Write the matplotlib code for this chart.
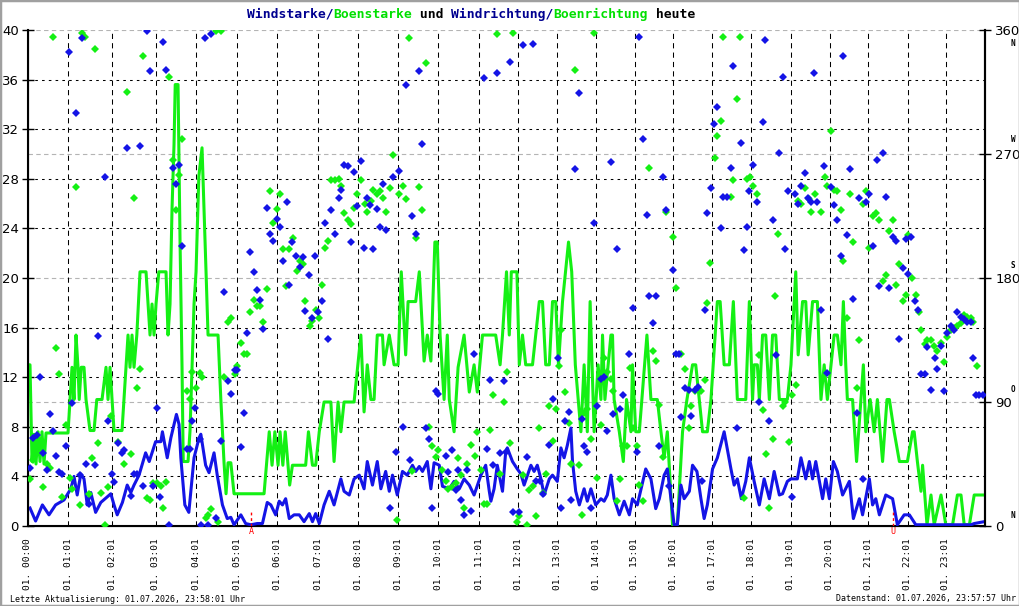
import matplotlib
matplotlib.use("Agg")
import matplotlib.pyplot as plt
from matplotlib.patches import Rectangle

# ---------------------------------------------------------
# Daten (x = Position auf der Zeitachse in Stunden, Tagesverlauf 01.07.)
# ---------------------------------------------------------
tick_pos = [0, 1.008, 2.108, 3.193, 4.208, 5.233, 6.233, 7.258, 8.258, 9.258,
            10.258, 11.275, 12.258, 13.233, 14.208, 15.168, 16.133, 17.108,
            18.083, 19.068, 20.043, 21.008, 21.983, 22.943]
tick_labels = ["01. 00:00"] + ["01. %02d:01" % h for h in range(1, 24)]

# Boenstarke (gruen)
gust = [(0.0, 13.0), (0.05, 13.0), (0.10, 5.2), (0.15, 7.4), (0.2, 5.0), (0.25, 7.6), (0.3, 5.2),
        (0.35, 7.6), (0.4, 5.0), (0.45, 7.5), (0.5, 7.5), (1.0, 7.5), (1.05, 10.2), (1.1, 12.8),
        (1.15, 10.2), (1.2, 15.4), (1.25, 12.8), (1.28, 10.2), (1.33, 12.8), (1.4, 12.8),
        (1.45, 10.2), (1.55, 7.7), (1.65, 7.7), (1.72, 10.2), (1.85, 10.2), (1.95, 12.8),
        (2.0, 10.2), (2.05, 12.8), (2.15, 7.7), (2.35, 7.7), (2.45, 12.8), (2.5, 15.4),
        (2.55, 12.8), (2.6, 15.4), (2.65, 12.8), (2.72, 15.4), (2.8, 20.5), (2.95, 20.5),
        (3.0, 17.9), (3.05, 15.4), (3.1, 17.9), (3.15, 15.4), (3.2, 17.9), (3.27, 20.5),
        (3.45, 20.5), (3.5, 15.4), (3.55, 17.9), (3.6, 25.6), (3.65, 30.8), (3.68, 35.6),
        (3.75, 35.6), (3.8, 23.0), (3.85, 12.8), (3.88, 5.2), (4.0, 5.2), (4.05, 7.7),
        (4.1, 12.8), (4.15, 17.9), (4.2, 20.5), (4.27, 28.2), (4.35, 30.5), (4.4, 25.6),
        (4.45, 20.5), (4.5, 15.4), (4.75, 15.4), (4.82, 10.2), (4.9, 5.1), (4.95, 2.6),
        (5.0, 5.1), (5.07, 5.1), (5.15, 2.6), (5.9, 2.6),
        (6.03, 7.6), (6.1, 4.9), (6.17, 7.6), (6.25, 4.9), (6.3, 7.6), (6.37, 4.9), (6.43, 7.6),
        (6.5, 4.9), (6.54, 3.3), (6.61, 4.9), (6.94, 4.9), (7.01, 7.6), (7.11, 4.9), (7.19, 4.9),
        (7.28, 7.6), (7.4, 10.0), (7.57, 10.0), (7.65, 5.2), (7.75, 10.0), (7.82, 7.6),
        (7.9, 10.0), (8.15, 10.0), (8.32, 15.4), (8.4, 9.2), (8.48, 13.0), (8.57, 10.2),
        (8.65, 10.2), (8.73, 15.4), (8.86, 15.4), (8.9, 13.0), (9.03, 15.4), (9.15, 13.0),
        (9.25, 13.0), (9.33, 20.5), (9.44, 13.8), (9.5, 18.1), (9.69, 18.1), (9.78, 20.5),
        (9.9, 13.3), (9.98, 15.4), (10.07, 13.3), (10.17, 22.9), (10.23, 22.9), (10.3, 15.4),
        (10.4, 10.2), (10.48, 15.4), (10.53, 10.2), (10.65, 7.6), (10.75, 12.8), (10.9, 15.4),
        (11.03, 10.8), (11.15, 13.0), (11.23, 10.8), (11.36, 15.4), (11.69, 15.4), (11.8, 13.0),
        (11.86, 15.4), (11.96, 20.5), (12.03, 15.4),
        (12.08, 20.5), (12.22, 20.5), (12.28, 13.0), (12.36, 15.4), (12.44, 13.0), (12.61, 13.0),
        (12.69, 15.4), (12.78, 18.1), (12.86, 18.1), (12.94, 13.0), (13.03, 13.0), (13.11, 18.1),
        (13.19, 18.1), (13.26, 13.0), (13.36, 18.1), (13.51, 22.9), (13.59, 20.5), (13.68, 13.0),
        (13.82, 7.6), (13.9, 13.0), (13.98, 7.6), (14.05, 18.1), (14.15, 7.6), (14.25, 13.0),
        (14.32, 10.2), (14.36, 15.4), (14.42, 10.2), (14.57, 15.4), (14.61, 15.4), (14.65, 10.2),
        (14.78, 7.6), (14.88, 5.2), (14.96, 10.2), (15.07, 7.6), (15.11, 13.0), (15.19, 7.6),
        (15.28, 7.6), (15.47, 15.4), (15.57, 10.2), (15.73, 10.2), (15.82, 7.6), (15.9, 5.5),
        (15.98, 7.6), (16.11, 0.1), (16.23, 0.1), (16.36, 7.6), (16.47, 10.2), (16.61, 13.0),
        (16.69, 13.0), (16.86, 7.6), (16.98, 7.6), (17.07, 10.2), (17.23, 18.1), (17.3, 18.1),
        (17.4, 13.0), (17.53, 13.0), (17.63, 18.1), (17.73, 10.2), (17.94, 10.2), (18.03, 18.1),
        (18.11, 10.2), (18.15, 13.0), (18.23, 13.0), (18.28, 10.2), (18.36, 15.4), (18.44, 15.4),
        (18.53, 10.2), (18.61, 15.4), (18.69, 15.4), (18.78, 10.2), (18.98, 10.2), (19.07, 13.0),
        (19.19, 20.5), (19.25, 13.8), (19.36, 18.1), (19.44, 18.1), (19.5, 13.8), (19.61, 18.1),
        (19.73, 18.1), (19.82, 10.2), (19.9, 13.0), (19.98, 10.2), (20.15, 15.4), (20.23, 15.4),
        (20.32, 13.0), (20.38, 18.1), (20.44, 13.0), (20.48, 10.2), (20.61, 10.2), (20.71, 5.2),
        (20.82, 10.2), (20.88, 13.0), (20.94, 7.6), (21.05, 10.2), (21.15, 7.6), (21.23, 10.2),
        (21.36, 5.2), (21.47, 10.2), (21.53, 10.2), (21.65, 7.6), (21.78, 5.2), (21.98, 5.2),
        (22.11, 7.6), (22.15, 7.6), (22.23, 5.2), (22.32, 2.8), (22.36, 4.9), (22.47, 0.1),
        (22.57, 2.5), (22.65, 0.1), (22.82, 2.5), (22.94, 0.1), (23.11, 0.1), (23.23, 2.5),
        (23.32, 2.5), (23.4, 0.1), (23.53, 0.1), (23.65, 2.5), (23.9, 2.5)]

# Windstarke (blau)
wind = [(0.05, 1.45), (0.19, 0.4), (0.36, 1.7), (0.525, 0.9), (0.69, 1.7), (0.9, 2.1), (1.07, 3.0),
        (1.15, 4.0), (1.23, 2.5), (1.32, 4.2), (1.4, 3.8), (1.48, 1.7), (1.57, 2.7), (1.69, 1.1),
        (1.82, 1.9), (2.07, 2.6), (2.15, 1.7), (2.23, 0.9), (2.36, 1.9), (2.48, 3.3), (2.57, 2.7),
        (2.65, 3.3), (2.775, 4.1), (2.94, 5.9), (3.03, 5.2), (3.19, 6.8), (3.32, 6.8), (3.36, 7.6),
        (3.48, 5.5), (3.57, 7.1), (3.71, 9.0), (3.775, 8.2), (3.82, 5.5), (3.92, 1.7), (4.02, 1.1),
        (4.15, 5.5), (4.275, 7.1), (4.32, 7.4), (4.44, 4.9), (4.525, 4.3), (4.65, 5.9), (4.73, 4.1),
        (4.86, 1.7), (4.98, 0.6), (5.07, 0.7), (5.15, 0.1), (5.32, 0.9), (5.44, 0.2), (5.57, 0.1),
        (5.73, 0.2), (5.86, 0.2), (5.98, 1.9),
        (6.07, 1.7), (6.19, 0.9), (6.28, 2.0), (6.36, 1.7), (6.44, 2.2), (6.53, 0.6), (6.65, 0.9),
        (6.78, 0.9), (6.9, 0.35), (7.03, 1.0), (7.11, 0.35), (7.19, 1.0), (7.28, 0.2), (7.4, 1.7),
        (7.53, 2.8), (7.65, 1.7), (7.82, 3.8), (7.9, 2.8), (8.03, 2.5), (8.15, 3.8), (8.28, 4.1),
        (8.4, 3.0), (8.48, 5.2), (8.61, 3.3), (8.73, 5.2), (8.82, 3.0), (8.94, 4.4), (9.03, 2.8),
        (9.11, 4.1), (9.23, 2.5), (9.36, 4.4), (9.48, 4.1), (9.61, 4.9), (9.69, 4.4), (9.78, 4.8),
        (9.86, 4.4), (9.98, 5.2), (10.07, 3.0), (10.15, 5.1), (10.28, 4.9), (10.36, 3.2),
        (10.53, 3.0), (10.65, 3.6), (10.78, 3.0), (10.9, 3.8), (11.03, 3.3), (11.15, 2.5),
        (11.32, 4.1), (11.44, 4.9), (11.53, 2.8), (11.57, 2.0), (11.65, 3.0), (11.73, 4.9),
        (11.86, 2.8), (11.94, 6.0),
        (11.98, 6.3), (12.11, 5.2), (12.23, 4.6), (12.32, 4.2), (12.4, 3.3), (12.57, 4.9),
        (12.65, 4.4), (12.73, 4.9), (12.82, 3.8), (12.9, 2.5), (13.03, 3.8), (13.11, 4.1),
        (13.23, 3.6), (13.32, 6.3), (13.4, 5.5), (13.48, 6.5), (13.57, 7.9), (13.61, 5.2),
        (13.69, 2.8), (13.78, 1.7), (13.9, 3.0), (13.98, 2.0), (14.07, 3.0), (14.19, 1.7),
        (14.32, 2.2), (14.4, 2.0), (14.48, 2.5), (14.57, 4.1), (14.65, 2.2), (14.78, 0.9),
        (14.9, 2.0), (15.03, 0.9), (15.11, 2.2), (15.23, 1.7), (15.44, 4.6), (15.57, 3.8),
        (15.69, 1.4), (15.78, 2.2), (15.9, 4.1), (15.98, 4.6), (16.07, 2.2), (16.15, 0.1),
        (16.23, 0.1), (16.32, 3.3), (16.4, 2.2), (16.53, 2.8), (16.61, 4.9), (16.72, 4.4),
        (16.82, 2.2), (16.9, 0.6), (16.98, 1.7), (17.11, 4.6), (17.23, 5.5), (17.4, 7.6),
        (17.57, 4.6), (17.65, 3.3), (17.73, 3.8), (17.83, 2.2), (17.94, 3.6),
        (18.03, 5.5), (18.15, 3.6), (18.28, 1.7), (18.4, 3.8), (18.53, 2.2), (18.65, 4.4),
        (18.78, 2.5), (18.86, 2.6), (18.98, 3.6), (19.07, 3.8), (19.23, 3.8), (19.32, 5.5),
        (19.44, 3.8), (19.53, 5.2), (19.61, 3.8), (19.69, 5.2), (19.86, 2.2), (19.94, 3.8),
        (20.03, 2.2), (20.13, 5.2), (20.23, 4.4), (20.36, 2.5), (20.53, 3.6), (20.63, 0.6),
        (20.78, 2.2), (20.86, 0.9), (21.03, 3.8), (21.11, 1.7), (21.19, 2.2), (21.28, 0.9),
        (21.44, 2.5), (21.61, 2.2), (21.73, 0.1), (21.9, 0.9), (22.03, 0.9), (22.19, 0.1),
        (23.57, 0.1), (23.65, 0.2), (23.9, 0.35)]

# Windrichtung (blau, Grad)
wind_dir = [(0.05, 42), (0.13, 64), (0.23, 66), (0.30, 108), (0.38, 53), (0.47, 41), (0.55, 81),
            (0.63, 69), (0.71, 51), (0.78, 39), (0.86, 38), (0.96, 58), (1.03, 344), (1.11, 89),
            (1.19, 300), (1.29, 37), (1.36, 354), (1.44, 45), (1.53, 16), (1.68, 44), (1.76, 138),
            (1.93, 253), (2.01, 76), (2.09, 38), (2.15, 32), (2.26, 60), (2.34, 53), (2.40, 55),
            (2.48, 274), (2.58, 22), (2.65, 38), (2.73, 38), (2.81, 276), (2.88, 29), (2.98, 359),
            (3.05, 330), (3.13, 29), (3.22, 86), (3.30, 21), (3.38, 351), (3.46, 331), (3.53, 1),
            (3.63, 260), (3.71, 248), (3.78, 262), (3.86, 203), (3.98, 56), (4.04, 56), (4.11, 76),
            (4.18, 86), (4.29, 63), (4.33, 1), (4.43, 354), (4.51, 1), (4.58, 357), (4.69, 6),
            (4.83, 62), (4.90, 170), (5.01, 105), (5.08, 96), (5.17, 113), (5.22, 113), (5.33, 57),
            (5.40, 82), (5.48, 140), (5.56, 199), (5.65, 184), (5.73, 171), (5.81, 164), (5.88, 143),
            (5.98, 231), (6.05, 212), (6.13, 207), (6.22, 223), (6.30, 217), (6.38, 192), (6.47, 235),
            (6.53, 175), (6.61, 206), (6.71, 196), (6.79, 188), (6.87, 195), (6.93, 156), (7.03, 182),
            (7.11, 151), (7.18, 196), (7.26, 155), (7.36, 163), (7.43, 220), (7.51, 136), (7.58, 229),
            (7.68, 212), (7.77, 238), (7.83, 244), (7.90, 262), (8.00, 261), (8.08, 206), (8.15, 257),
            (8.23, 232), (8.33, 265), (8.40, 202), (8.48, 238), (8.55, 233), (8.63, 201), (8.73, 230),
            (8.81, 217), (8.88, 248), (8.96, 215), (9.05, 13), (9.13, 253), (9.21, 54), (9.28, 258),
            (9.38, 72), (9.46, 320), (9.54, 48), (9.61, 225), (9.71, 212), (9.78, 330), (9.86, 277),
            (9.94, 71), (10.03, 63), (10.11, 13), (10.19, 98), (10.26, 96), (10.44, 51), (10.51, 39),
            (10.59, 55), (10.69, 26), (10.76, 41), (10.83, 19), (10.90, 8), (10.98, 41), (11.08, 11),
            (11.15, 125), (11.40, 325), (11.48, 56), (11.56, 106), (11.63, 44), (11.73, 329),
            (11.80, 53), (11.95, 54),
            (11.90, 105), (12.05, 337), (12.13, 10), (12.28, 10), (12.38, 349), (12.46, 50),
            (12.61, 350), (12.69, 33), (12.79, 33), (12.88, 23), (13.01, 59), (13.11, 92),
            (13.25, 122), (13.33, 13), (13.43, 76), (13.51, 83), (13.58, 19), (13.66, 259),
            (13.76, 314), (13.84, 78), (13.90, 58), (13.98, 54), (14.08, 13), (14.15, 220),
            (14.23, 87), (14.32, 107), (14.40, 108), (14.48, 69), (14.57, 264), (14.63, 81),
            (14.72, 201), (14.80, 85), (14.88, 95), (15.03, 125), (15.13, 158), (15.21, 54),
            (15.28, 355), (15.36, 281), (15.46, 226), (15.53, 167), (15.61, 147), (15.69, 167),
            (15.78, 58), (15.86, 253), (15.94, 229), (16.03, 29), (16.11, 186), (16.19, 125),
            (16.28, 125), (16.33, 79), (16.43, 100), (16.51, 99), (16.58, 80), (16.67, 99),
            (16.75, 101), (16.84, 33), (16.92, 157), (16.98, 227), (17.07, 245), (17.15, 292),
            (17.23, 304), (17.32, 216), (17.38, 239), (17.48, 239), (17.57, 260), (17.63, 334),
            (17.72, 71), (17.81, 278),
            (17.90, 200), (17.97, 217), (18.03, 243), (18.13, 262), (18.21, 235), (18.28, 90),
            (18.36, 293), (18.43, 353), (18.53, 76), (18.61, 222), (18.69, 124), (18.76, 271),
            (18.86, 326), (18.93, 201), (19.00, 243), (19.09, 21), (19.18, 241), (19.25, 234),
            (19.33, 247), (19.41, 256), (19.50, 238), (19.58, 235), (19.65, 329), (19.73, 235),
            (19.83, 157), (19.90, 261), (19.98, 111), (20.07, 246), (20.15, 233), (20.23, 222),
            (20.32, 196), (20.38, 341), (20.47, 211), (20.55, 259), (20.63, 165), (20.72, 82),
            (20.78, 238), (20.88, 34), (20.95, 235), (21.03, 241), (21.11, 203), (21.21, 266),
            (21.28, 174), (21.36, 271), (21.44, 239), (21.53, 173), (21.61, 210), (21.69, 207),
            (21.76, 136), (21.86, 187), (21.94, 208), (21.99, 183), (22.08, 210), (22.18, 163),
            (22.25, 157), (22.33, 110), (22.42, 110), (22.48, 130), (22.58, 99), (22.67, 122),
            (22.73, 114), (22.82, 131), (22.90, 98), (22.98, 140), (23.07, 145), (23.15, 142),
            (23.23, 155), (23.32, 152), (23.40, 150), (23.47, 148), (23.57, 148), (23.63, 122),
            (23.69, 95), (23.78, 95), (23.88, 95)]

# Boenrichtung (gruen, Grad)
gust_dir = [(0.05, 34), (0.13, 48), (0.22, 56), (0.30, 62), (0.38, 28), (0.47, 45), (0.55, 42),
            (0.63, 355), (0.71, 129), (0.78, 110), (0.86, 21), (0.96, 73), (1.04, 35), (1.11, 27),
            (1.19, 246), (1.29, 15), (1.36, 358), (1.43, 355), (1.53, 23), (1.61, 49), (1.68, 346),
            (1.76, 60), (1.83, 24), (1.93, 1), (2.01, 28), (2.08, 80), (2.26, 61), (2.40, 45),
            (2.48, 315), (2.58, 52), (2.65, 238), (2.73, 100), (2.81, 114), (2.88, 341), (2.98, 20),
            (3.05, 19), (3.13, 31), (3.22, 31), (3.32, 29), (3.38, 13), (3.46, 32), (3.53, 326),
            (3.63, 266), (3.69, 229), (3.78, 255), (3.86, 281), (3.97, 98), (4.04, 92), (4.11, 112),
            (4.19, 100), (4.29, 111), (4.36, 108), (4.44, 6), (4.51, 8), (4.58, 12), (4.69, 359),
            (4.76, 3), (4.83, 359), (4.90, 108), (5.00, 148), (5.07, 151), (5.17, 110), (5.23, 116),
            (5.33, 133), (5.40, 125), (5.48, 125), (5.56, 155), (5.65, 164), (5.73, 160), (5.80, 160),
            (5.88, 148),
            (5.97, 172), (6.05, 243), (6.13, 220), (6.22, 230), (6.30, 241), (6.38, 201), (6.45, 174),
            (6.53, 201), (6.62, 209), (6.72, 185), (6.80, 192), (6.87, 190), (6.93, 163), (7.04, 145),
            (7.11, 149), (7.19, 157), (7.27, 151), (7.36, 175), (7.43, 202), (7.51, 207), (7.58, 251),
            (7.68, 251), (7.77, 252), (7.83, 247), (7.90, 227), (8.00, 222), (8.08, 219), (8.15, 231),
            (8.23, 241), (8.33, 251), (8.42, 234), (8.48, 228), (8.57, 236), (8.63, 244), (8.73, 241),
            (8.81, 243), (8.88, 238), (8.96, 228), (9.05, 245), (9.13, 269), (9.22, 4), (9.28, 241),
            (9.38, 247), (9.46, 237), (9.53, 354), (9.61, 40), (9.71, 209), (9.78, 246), (9.86, 229),
            (9.94, 336), (10.03, 72), (10.11, 58), (10.19, 50), (10.26, 55), (10.36, 41), (10.44, 33),
            (10.51, 27), (10.61, 28), (10.69, 31), (10.76, 49), (10.83, 37), (10.90, 13), (10.98, 45),
            (11.08, 59), (11.17, 51), (11.23, 68), (11.32, 41), (11.40, 16), (11.48, 16), (11.56, 70),
            (11.63, 95), (11.73, 357), (11.80, 38),
            (11.90, 90), (11.97, 112), (12.05, 60), (12.13, 358), (12.22, 3), (12.28, 7), (12.38, 37),
            (12.46, 1), (12.53, 26), (12.61, 29), (12.69, 7), (12.78, 71), (12.88, 24), (12.94, 38),
            (13.01, 87), (13.11, 62), (13.19, 85), (13.28, 116), (13.33, 142), (13.43, 97),
            (13.51, 75), (13.58, 45), (13.66, 331), (13.76, 44), (13.84, 8), (13.90, 82), (13.98, 85),
            (14.08, 63), (14.15, 358), (14.23, 35), (14.32, 73), (14.40, 122), (14.48, 112),
            (14.57, 107), (14.63, 98), (14.72, 18), (14.80, 34), (14.88, 58), (14.97, 58),
            (15.05, 115), (15.13, 71), (15.21, 58), (15.28, 30), (15.37, 18), (15.53, 260),
            (15.61, 127), (15.69, 120), (15.78, 88), (15.86, 50), (15.94, 228), (16.11, 210),
            (16.19, 173), (16.33, 125), (16.42, 114), (16.51, 71), (16.58, 87), (16.67, 98),
            (16.83, 98), (16.92, 106), (16.98, 162), (17.05, 191), (17.17, 267), (17.23, 283),
            (17.32, 294), (17.38, 355), (17.57, 239), (17.63, 251), (17.71, 310), (17.80, 355),
            (17.90, 20), (17.97, 252), (18.05, 253), (18.13, 247), (18.21, 241), (18.28, 124),
            (18.36, 84), (18.44, 52), (18.53, 13), (18.61, 63), (18.68, 167), (18.75, 212),
            (18.86, 87), (18.93, 90), (19.01, 61), (19.09, 95), (19.19, 102), (19.25, 236),
            (19.33, 234), (19.42, 245), (19.51, 237), (19.58, 228), (19.66, 241), (19.83, 228),
            (19.91, 253), (19.98, 247), (20.06, 287), (20.15, 244), (20.23, 243), (20.32, 229),
            (20.38, 192), (20.47, 151), (20.55, 241), (20.63, 206), (20.71, 100), (20.78, 135),
            (20.88, 234), (20.95, 243), (21.03, 202), (21.11, 225), (21.19, 227), (21.28, 222),
            (21.37, 178), (21.44, 182), (21.53, 214), (21.62, 222), (21.69, 175), (21.76, 190),
            (21.86, 163), (21.94, 168), (21.99, 211), (22.09, 180), (22.19, 168), (22.26, 155),
            (22.33, 142), (22.42, 132), (22.48, 135), (22.57, 135), (22.65, 131), (22.73, 127),
            (22.82, 133), (22.90, 119), (22.98, 137), (23.07, 142), (23.15, 144), (23.23, 145),
            (23.32, 147), (23.40, 153), (23.47, 152), (23.57, 151), (23.63, 148), (23.71, 116)]

# Sonnenaufgang / -untergang
sun_marks = [(5.575, "A"), (21.62, "U")]

# ---------------------------------------------------------
# Grafik
# ---------------------------------------------------------
W, H = 1020, 606
BLUE = "#1414e6"
GREEN = "#14f014"
TITLE_BLUE = "#000090"
MONO = "DejaVu Sans Mono"

fig = plt.figure(figsize=(W / 100, H / 100), dpi=100)
ax = fig.add_axes([28 / W, 1 - 526 / H, 957 / W, 496 / H])
ax.set_xlim(0, 23.92)
ax.set_ylim(0, 40)

# Gitter
for v in [4, 8, 12, 16, 24, 28, 32, 36]:
    ax.axhline(v, color="black", lw=0.75, ls=(0, (2.5, 4)), zorder=1)
for v in [10, 20, 30, 40]:
    ax.axhline(v, color="#b4b4b4", lw=0.8, ls=(0, (4, 3)), zorder=1)
for p in tick_pos[1:]:
    ax.axvline(p, color="black", lw=0.75, ls=(0, (5, 4)), zorder=1)

ax.plot([g[0] for g in gust], [g[1] for g in gust], color=GREEN, lw=2.2, zorder=3)
ax.plot([w[0] for w in wind], [w[1] for w in wind], color=BLUE, lw=2.2, zorder=4)

# Sonnenaufgang / -untergang
for pos, letter in sun_marks:
    ax.plot([pos, pos], [0, 1.3], color="red", lw=1, ls=(0, (2, 2)), clip_on=False, zorder=5)
    ax.text(pos, -0.05, letter, color="red", fontsize=6, family=MONO,
            ha="center", va="top", clip_on=False)

ax.spines["top"].set_visible(False)
for s in ["left", "bottom", "right"]:
    ax.spines[s].set_linewidth(1.5)
ax.set_yticks(range(0, 41, 4))
ax.tick_params(axis="y", direction="inout", length=9, width=1, labelsize=9.5, pad=2)
ax.set_xticks(tick_pos)
ax.set_xticklabels(tick_labels, rotation=90, family=MONO, fontsize=6.8)
ax.tick_params(axis="x", length=0, pad=9)

ax2 = ax.twinx()
ax2.set_ylim(0, 360)
ax2.set_yticks([0, 90, 180, 270, 360])
ax2.tick_params(axis="y", direction="inout", length=9, width=1, labelsize=9.5, pad=3)
ax2.spines["top"].set_visible(False)
ax2.spines["right"].set_linewidth(1.5)
ax2.plot([g[0] for g in gust_dir], [g[1] for g in gust_dir], "D", color=GREEN,
         ms=3.8, mew=0, zorder=5)
ax2.plot([w[0] for w in wind_dir], [w[1] for w in wind_dir], "D", color=BLUE,
         ms=3.8, mew=0, zorder=6)

# Himmelsrichtungen
for lab, ypx in [("N", 44), ("W", 140), ("S", 266), ("O", 390), ("N", 516)]:
    fig.text(1013 / W, 1 - ypx / H, lab, fontsize=5.5, family=MONO, weight="bold",
             ha="center", va="center")

# Titel in Farben
parts = [("Windstarke/", TITLE_BLUE), ("Boenstarke", "#00e000"), (" und ", "black"),
         ("Windrichtung/", TITLE_BLUE), ("Boenrichtung", "#00e000"), (" heute", "black")]
fs = 9.4
cw = 0.602 * fs * 100 / 72
x0 = 247
n = 0
for txt, col in parts:
    fig.text((x0 + n * cw) / W, 1 - 14 / H, txt, color=col, fontsize=fs, family=MONO,
             weight="bold", ha="left", va="center")
    n += len(txt)

fig.text(10 / W, 1 - 599 / H, "Letzte Aktualisierung: 01.07.2026, 23:58:01 Uhr",
         fontsize=6, family=MONO, ha="left", va="center")
fig.text(1016 / W, 1 - 599 / H, "Datenstand: 01.07.2026, 23:57:57 Uhr",
         fontsize=6, family=MONO, ha="right", va="center")

fig.patches.append(Rectangle((0, 0), 1, 1, transform=fig.transFigure, fill=False,
                             edgecolor="#a0a0a0", lw=2.5))

fig.savefig("out.png", dpi=100)
